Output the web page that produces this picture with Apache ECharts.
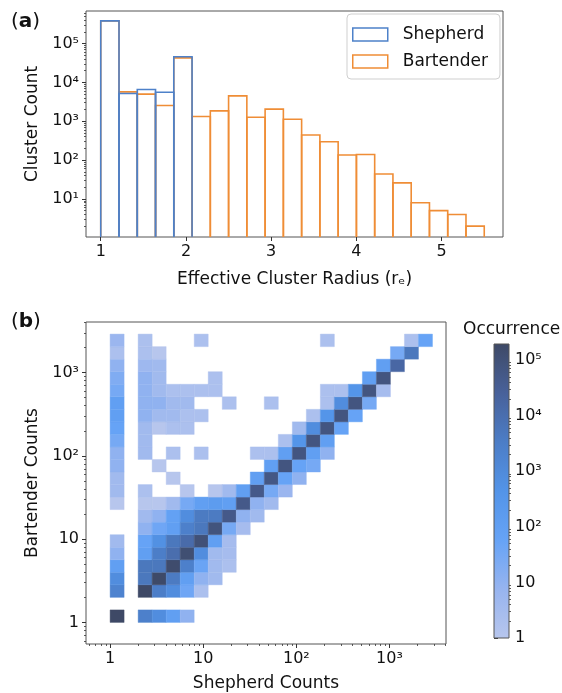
<!DOCTYPE html>
<html><head><meta charset="utf-8">
<script src="https://cdn.jsdelivr.net/npm/echarts@6/dist/echarts.min.js"></script>
<style>html,body{margin:0;padding:0;background:#fff}#c{width:562px;height:693px}</style>
</head><body><div id="c"></div>
<script>
// ---------- Panel (a): histogram of effective cluster radius ----------
const radiusBinEdges = [1.0, 1.2143, 1.4286, 1.6429, 1.8571, 2.0714, 2.2857, 2.5, 2.7143, 2.9286, 3.1429,
  3.3571, 3.5714, 3.7857, 4.0, 4.2143, 4.4286, 4.6429, 4.8571, 5.0714, 5.2857, 5.5];
const shepherdCounts = [385000, 5200, 6600, 5600, 46000];
const bartenderCounts = [385000, 5700, 5000, 2550, 43000, 1330, 1850, 4500, 1270, 2050, 1130,
  444, 298, 136, 140, 44, 26, 8, 5, 4, 2];
const radiusTicks = [1, 2, 3, 4, 5];
const clusterCountTicks = [10, 100, 1000, 10000, 100000];
const clusterCountTickLabels = ['10\u00B9', '10\u00B2', '10\u00B3', '10\u2074', '10\u2075'];

// ---------- Panel (b): 2D histogram Shepherd vs Bartender counts ----------
const countBinEdges = [1, 1.414, 2, 2.828, 4, 5.657, 8, 11.31, 16, 22.63, 32, 45.25, 64, 90.51,
  128, 181.0, 256, 362.0, 512, 724.1, 1024, 1448, 2048, 2896];
// [shepherd bin, bartender bin, occurrence]
const heatCells = [
  [0,0,250000],[0,2,2000],[0,3,800],[0,4,100],[0,5,10],[0,6,4],[0,9,1],[0,10,4],[0,11,4],[0,12,10],[0,13,10],[0,14,30],[0,15,60],[0,16,100],[0,17,100],[0,18,30],[0,19,20],[0,20,10],[0,21,2],[0,22,6],
  [2,0,2500],[2,2,200000],[2,3,5000],[2,4,5000],[2,5,100],[2,6,60],[2,7,10],[2,8,4],[2,9,1],[2,10,2],[2,13,4],[2,14,4],[2,15,4],[2,16,10],[2,17,10],[2,18,10],[2,19,10],[2,20,5],[2,21,2],[2,22,2],
  [3,0,800],[3,2,3000],[3,3,180000],[3,4,5000],[3,5,3000],[3,6,600],[3,7,40],[3,8,10],[3,9,1],[3,12,1],[3,15,1],[3,16,4],[3,17,10],[3,18,4],[3,19,4],[3,20,4],[3,21,1],
  [4,0,100],[4,2,800],[4,3,4000],[4,4,150000],[4,5,10000],[4,6,5000],[4,7,100],[4,8,80],[4,9,4],[4,11,1],[4,13,2],[4,15,2],[4,16,4],[4,17,4],[4,18,2],
  [5,0,10],[5,2,40],[5,3,100],[5,4,2500],[5,5,120000],[5,6,12000],[5,7,2500],[5,8,800],[5,9,30],[5,10,1],[5,15,2],[5,16,2],[5,17,4],[5,18,2],
  [6,2,2],[6,3,10],[6,4,50],[6,5,800],[6,6,100000],[6,7,5000],[6,8,4000],[6,9,100],[6,13,2],[6,16,2],[6,18,2],[6,22,2],
  [7,3,4],[7,4,4],[7,5,4],[7,6,100],[7,7,80000],[7,8,4000],[7,9,150],[7,10,1],[7,18,2],[7,19,2],
  [8,4,2],[8,5,3],[8,6,3],[8,7,30],[8,8,50000],[8,9,100],[8,10,4],[8,17,2],
  [9,7,3],[9,8,10],[9,9,50000],[9,10,100],
  [10,8,4],[10,9,10],[10,10,50000],[10,11,100],[10,13,2],
  [11,9,4],[11,10,30],[11,11,60000],[11,12,100],[11,13,2],[11,17,2],
  [12,10,6],[12,11,60],[12,12,70000],[12,13,100],[12,14,2],
  [13,11,10],[13,12,60],[13,13,70000],[13,14,400],[13,15,4],
  [14,12,30],[14,13,100],[14,14,70000],[14,15,800],[14,16,2],
  [15,13,10],[15,14,100],[15,15,70000],[15,16,400],[15,17,2],[15,18,2],[15,22,2],
  [16,15,60],[16,16,70000],[16,17,800],[16,18,2],
  [17,16,60],[17,17,70000],[17,18,400],
  [18,17,30],[18,18,70000],[18,19,100],
  [19,18,3],[19,19,70000],[19,20,100],
  [20,20,16000],[20,21,30],
  [21,21,5000],[21,22,2],
  [22,22,60]
];
const countTicks = [1, 10, 100, 1000];
const countTickLabels = ['1', '10', '10\u00B2', '10\u00B3'];
const occurrenceTicks = [1, 10, 100, 1000, 10000, 100000];
const occurrenceTickLabels = ['1', '10', '10\u00B2', '10\u00B3', '10\u2074', '10\u2075'];
const occurrenceColors = ['#b7c6ed', '#97b4ef', '#66a3f6', '#5394e8', '#4c7dc6', '#48619a', '#3e4966'];
const occurrenceMax = 195000;

// ---------- helpers ----------
const FONT = 'DejaVu Sans';
const BLUE = '#4e81c9', ORANGE = '#ef8d36';
const FRAME = '#555', TICK = '#333', TXT = '#111';
function minorLog(lo, hi) {
  const out = [];
  for (let e = -1; e <= 6; e++) for (let m = 2; m <= 9; m++) {
    const v = +(m * Math.pow(10, e)).toPrecision(4);
    if (v > lo && v < hi) out.push(v);
  }
  return out;
}
function labelFrom(ticks, labels) {
  return v => { let k = 0, best = Infinity; ticks.forEach((t, i) => { const d = Math.abs(Math.log10(v / t)); if (d < best) { best = d; k = i; } }); return labels[k]; };
}
const aYMin = 1.05, aYMax = 690000, aXMin = 0.827, aXMax = 5.72;
const bMin = 0.551, bMax = 4046;

function histItems(counts) {
  return counts.map((c, k) => [radiusBinEdges[k], radiusBinEdges[k + 1], c]);
}
function stepRender(color) {
  return function (params, api) {
    const x0 = api.value(0), x1 = api.value(1), c = api.value(2);
    const pTL = api.coord([x0, c]), pBR = api.coord([x1, aYMin]);
    return { type: 'polyline', shape: { points: [[pTL[0], pBR[1]], [pTL[0], pTL[1]], [pBR[0], pTL[1]], [pBR[0], pBR[1]]] },
      style: { fill: null, stroke: color, lineWidth: 1.6 } };
  };
}
const heatData = heatCells.map(([i, j, n]) => [countBinEdges[i], countBinEdges[i + 1], countBinEdges[j], countBinEdges[j + 1], n, Math.log10(n)]);

const majorTick = { show: true, length: 4, lineStyle: { color: TICK, width: 1 } };
const minorTickStyle = { show: true, length: 2, lineStyle: { color: TICK, width: 0.8 } };
const lbl = { color: TXT, fontSize: 16, fontFamily: FONT };

const chart = echarts.init(document.getElementById('c'), null, { renderer: 'canvas' });
const option = {
  animation: false,
  backgroundColor: '#fff',
  textStyle: { fontFamily: FONT },
  grid: [
    { left: 86, top: 11, width: 417, height: 226, show: true, borderColor: FRAME, borderWidth: 1, backgroundColor: 'transparent' },
    { left: 86, top: 322, width: 360, height: 326, show: true, borderColor: FRAME, borderWidth: 1, backgroundColor: 'transparent' },
    { left: 494, top: 344, width: 15, height: 294, show: false }
  ],
  xAxis: [
    { gridIndex: 0, type: 'value', min: aXMin, max: aXMax, axisLine: { show: false }, splitLine: { show: false },
      axisTick: Object.assign({ customValues: radiusTicks }, majorTick),
      axisLabel: Object.assign({ customValues: radiusTicks, margin: 7 }, lbl),
      name: 'Effective Cluster Radius (r\u2091)', nameLocation: 'middle', nameGap: 34,
      nameTextStyle: { fontSize: 17, color: TXT, fontFamily: FONT } },
    { gridIndex: 1, type: 'log', min: bMin, max: bMax, axisLine: { show: false }, splitLine: { show: false },
      axisTick: Object.assign({ customValues: countTicks }, majorTick),
      axisLabel: Object.assign({ customValues: countTicks, margin: 7, formatter: labelFrom(countTicks, countTickLabels) }, lbl),
      name: 'Shepherd Counts', nameLocation: 'middle', nameGap: 31,
      nameTextStyle: { fontSize: 17, color: TXT, fontFamily: FONT } },
    { gridIndex: 1, type: 'log', min: bMin, max: bMax, position: 'bottom', axisLine: { show: false }, splitLine: { show: false },
      axisTick: Object.assign({ customValues: minorLog(bMin, bMax) }, minorTickStyle), axisLabel: { show: false } },
    { gridIndex: 2, type: 'value', min: 0, max: 1, show: false }
  ],
  yAxis: [
    { gridIndex: 0, type: 'log', min: aYMin, max: aYMax, axisLine: { show: false }, splitLine: { show: false },
      axisTick: Object.assign({ customValues: clusterCountTicks }, majorTick),
      axisLabel: Object.assign({ customValues: clusterCountTicks, margin: 7, formatter: labelFrom(clusterCountTicks, clusterCountTickLabels) }, lbl),
      name: 'Cluster Count', nameLocation: 'middle', nameGap: 45,
      nameTextStyle: { fontSize: 17, color: TXT, fontFamily: FONT } },
    { gridIndex: 0, type: 'log', min: aYMin, max: aYMax, position: 'left', axisLine: { show: false }, splitLine: { show: false },
      axisTick: Object.assign({ customValues: minorLog(aYMin, aYMax) }, minorTickStyle), axisLabel: { show: false } },
    { gridIndex: 1, type: 'log', min: bMin, max: bMax, axisLine: { show: false }, splitLine: { show: false },
      axisTick: Object.assign({ customValues: countTicks }, majorTick),
      axisLabel: Object.assign({ customValues: countTicks, margin: 7, formatter: labelFrom(countTicks, countTickLabels) }, lbl),
      name: 'Bartender Counts', nameLocation: 'middle', nameGap: 41,
      nameTextStyle: { fontSize: 17, color: TXT, fontFamily: FONT } },
    { gridIndex: 1, type: 'log', min: bMin, max: bMax, position: 'left', axisLine: { show: false }, splitLine: { show: false },
      axisTick: Object.assign({ customValues: minorLog(bMin, bMax) }, minorTickStyle), axisLabel: { show: false } },
    { gridIndex: 2, type: 'log', min: 1, max: occurrenceMax, position: 'right', axisLine: { show: false }, splitLine: { show: false },
      axisTick: Object.assign({ customValues: occurrenceTicks }, majorTick),
      axisLabel: Object.assign({ customValues: occurrenceTicks, margin: 6, formatter: labelFrom(occurrenceTicks, occurrenceTickLabels) }, lbl) },
    { gridIndex: 2, type: 'log', min: 1, max: occurrenceMax, position: 'right', axisLine: { show: false }, splitLine: { show: false },
      axisTick: Object.assign({ customValues: minorLog(1, occurrenceMax) }, minorTickStyle), axisLabel: { show: false } }
  ],
  legend: {
    left: 347, top: 14, orient: 'vertical', itemWidth: 35, itemHeight: 13, itemGap: 10,
    padding: [12, 12, 9, 5], backgroundColor: '#fff', borderColor: '#cfcfcf', borderWidth: 1, borderRadius: 4,
    textStyle: { fontSize: 17, color: TXT, fontFamily: FONT, padding: [0, 0, 0, 10] },
    data: [
      { name: 'Shepherd', icon: 'rect', itemStyle: { color: 'rgba(0,0,0,0)', borderColor: BLUE, borderWidth: 1.5 } },
      { name: 'Bartender', icon: 'rect', itemStyle: { color: 'rgba(0,0,0,0)', borderColor: ORANGE, borderWidth: 1.5 } }
    ]
  },
  visualMap: {
    show: false, type: 'continuous', seriesIndex: 2, dimension: 5,
    min: 0, max: Math.log10(occurrenceMax), inRange: { color: occurrenceColors }
  },
  series: [
    { type: 'custom', name: 'Bartender', xAxisIndex: 0, yAxisIndex: 0, z: 2, clip: true,
      itemStyle: { color: ORANGE }, encode: { x: [0, 1], y: 2 },
      data: histItems(bartenderCounts), renderItem: stepRender(ORANGE) },
    { type: 'custom', name: 'Shepherd', xAxisIndex: 0, yAxisIndex: 0, z: 3, clip: true,
      itemStyle: { color: BLUE }, encode: { x: [0, 1], y: 2 },
      data: histItems(shepherdCounts), renderItem: stepRender(BLUE) },
    { type: 'custom', name: 'Occurrence', xAxisIndex: 1, yAxisIndex: 2, clip: true,
      encode: { x: [0, 1], y: [2, 3] }, data: heatData,
      renderItem: function (params, api) {
        const a = api.coord([api.value(0), api.value(3)]);
        const b = api.coord([api.value(1), api.value(2)]);
        const col = api.visual('color');
        return { type: 'rect', shape: { x: a[0], y: a[1], width: b[0] - a[0], height: b[1] - a[1] },
          style: { fill: col, stroke: col, lineWidth: 0.4 } };
      } },
    { type: 'custom', name: 'colorbar', xAxisIndex: 3, yAxisIndex: 4, silent: true,
      encode: { x: 0, y: 1 }, data: [[0, 1], [1, occurrenceMax]],
      renderItem: function (params, api) {
        if (params.dataIndex !== 0) return null;
        const a = api.coord([0, occurrenceMax]);
        const b = api.coord([1, 1]);
        const stops = occurrenceColors.map((c, k) => ({ offset: k / (occurrenceColors.length - 1), color: c }));
        return { type: 'rect', shape: { x: a[0], y: a[1], width: b[0] - a[0], height: b[1] - a[1] },
          style: { fill: new echarts.graphic.LinearGradient(0, 1, 0, 0, stops), stroke: FRAME, lineWidth: 1 } };
      } }
  ],
  graphic: [
    { type: 'text', left: 11, top: 12, style: { text: '({b|a})', rich: { b: { fontWeight: 'bold', fontSize: 20, fontFamily: FONT, fill: TXT } }, fontSize: 20, fontFamily: FONT, fill: TXT } },
    { type: 'text', left: 11, top: 312, style: { text: '({b|b})', rich: { b: { fontWeight: 'bold', fontSize: 20, fontFamily: FONT, fill: TXT } }, fontSize: 20, fontFamily: FONT, fill: TXT } },
    { type: 'text', left: 463, top: 321, style: { text: 'Occurrence', fontSize: 17, fontFamily: FONT, fill: TXT } }
  ]
};
chart.setOption(option);
</script>
</body></html>
